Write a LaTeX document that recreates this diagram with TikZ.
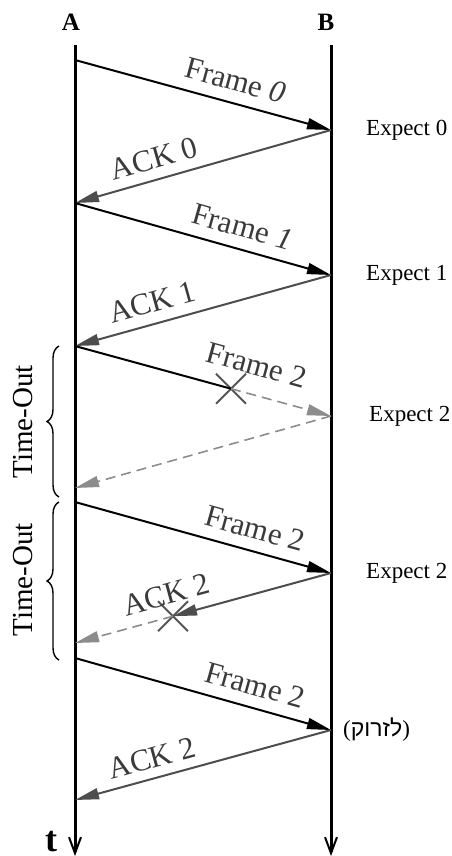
\documentclass[tikz,border=0pt]{standalone}
\usepackage{fontspec}
\setmainfont{Liberation Serif}
\newfontfamily\hebfont[Script=Hebrew]{Liberation Sans}
\TeXXeTstate=1
\usetikzlibrary{arrows.meta,decorations.pathreplacing,shapes.misc}
\definecolor{labelgray}{HTML}{3A3A3A}
\definecolor{ackgray}{HTML}{4D4D4D}
\definecolor{lostgray}{HTML}{8C8C8C}
\definecolor{xgray}{HTML}{555555}
\begin{document}
\begin{tikzpicture}[x=1pt,y=-1pt,
  tl/.style={line width=3pt,-{Straight Barb[length=16pt,width=12pt,line width=2pt]}},
  frm/.style={line width=2pt,draw=black,-{Triangle[length=24pt,width=11pt]}},
  ack/.style={line width=2pt,draw=ackgray,-{Triangle[length=24pt,width=11pt]}},
  lost/.style={line width=1.6pt,draw=lostgray,dash pattern=on 10pt off 6pt,-{Triangle[length=24pt,width=11pt]}},
  plainline/.style={line width=2pt,draw=black},
  lbl/.style={font=\fontsize{31}{33}\selectfont,text=labelgray,sloped,inner sep=0pt},
  expect/.style={font=\fontsize{23}{25}\selectfont,anchor=west,inner sep=0pt},
  xmark/.style={cross out,draw=xgray,line width=2pt,minimum size=28pt,inner sep=0pt},
  brc/.style={decorate,decoration={brace,amplitude=12pt},line width=1.4pt},
  tlab/.style={font=\fontsize{29}{31}\selectfont,rotate=90,inner sep=0pt},
  head/.style={font=\bfseries\fontsize{25}{27}\selectfont,inner sep=0pt}]
\useasboundingbox (0,0) rectangle (451,856);
% timelines
\coordinate (Atop) at (75,45);
\coordinate (Abot) at (75,856);
\coordinate (Btop) at (331,45);
\coordinate (Bbot) at (331,856);
\draw[tl] (Atop) -- (Abot);
\draw[tl] (Btop) -- (Bbot);
\node[head] (la) at (71,22) {A};
\node[head] (lb) at (326,22) {B};
\node[font=\bfseries\fontsize{36}{38}\selectfont,inner sep=0pt,anchor=base] (lt) at (51,851) {t};
% event points
\coordinate (A0) at (75,60);
\coordinate (B0) at (331,130);
\coordinate (A1) at (75,203);
\coordinate (B1) at (331,275);
\coordinate (A2) at (75,346);
\coordinate (B2) at (331,416);
\coordinate (A3) at (75,488);
\coordinate (A4) at (75,502);
\coordinate (B3) at (331,573);
\coordinate (A5) at (75,643);
\coordinate (A6) at (75,658);
\coordinate (B4) at (331,730);
\coordinate (A7) at (75,800);
% exchanges
\draw[frm] (A0) -- node[lbl,pos=0.605,above=11pt] {Frame \textit{0}} (B0);
\draw[ack] (B0) -- node[lbl,pos=0.67,above=10pt] {ACK 0} (A1);
\draw[frm] (A1) -- node[lbl,pos=0.63,above=11pt] {Frame \textit{1}} (B1);
\draw[ack] (B1) -- node[lbl,pos=0.676,above=10pt] {ACK 1} (A2);
% lost frame 2
\node[xmark] (X1) at (231,388.7) {};
\draw[plainline] (A2) -- (X1.center);
\draw[lost] (X1.center) -- (B2);
\path (A2) -- node[lbl,pos=0.68,above=19pt] {Frame 2} (B2);
\draw[lost] (B2) -- (A3);
% frame 2 again, ack lost
\draw[frm] (A4) -- node[lbl,pos=0.68,above=11pt] {Frame 2} (B3);
\node[xmark] (X2) at (173,616.2) {};
\draw[ack] (B3) -- (X2.center);
\draw[lost] (X2.center) -- (A5);
\path (B3) -- node[lbl,pos=0.62,above=12pt] {ACK 2} (A5);
% frame 2 third time
\draw[frm] (A6) -- node[lbl,pos=0.68,above=11pt] {Frame 2} (B4);
\draw[ack] (B4) -- node[lbl,pos=0.68,above=9pt] {ACK 2} (A7);
% expect labels
\node[expect] (e0) at (366,130) {Expect 0};
\node[expect] (e1) at (366,275) {Expect 1};
\node[expect] (e2) at (369,416) {Expect 2};
\node[expect] (e3) at (366,573) {Expect 2};
\node[expect] (heb) at (343,730) {(\hbox{\hebfont\beginR לזרוק\endR})};
% time-out braces
\coordinate (T1b) at (59,497);
\coordinate (T1t) at (59,346);
\coordinate (T2b) at (59,660);
\coordinate (T2t) at (59,502);
\draw[brc] (T1b) -- (T1t);
\draw[brc] (T2b) -- (T2t);
\node[tlab] (to1) at (23,422) {Time-Out};
\node[tlab] (to2) at (23,580) {Time-Out};
\end{tikzpicture}
\end{document}
